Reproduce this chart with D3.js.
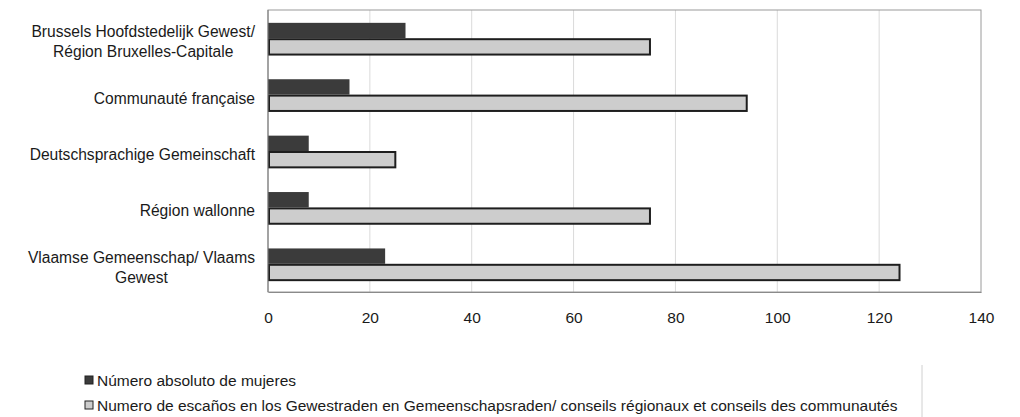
<!DOCTYPE html>
<html><head><meta charset="utf-8">
<script src="https://cdn.jsdelivr.net/npm/d3@7"></script>
<style>
html,body{margin:0;padding:0;background:#fff;}
svg{display:block;font-family:"Liberation Sans",Arial,Helvetica,sans-serif;}
</style></head>
<body>
<svg id="chart" width="1020" height="417"></svg>
<script>
const categories = [
  ["Brussels Hoofdstedelijk Gewest/", "Région Bruxelles-Capitale"],
  ["Communauté française"],
  ["Deutschsprachige Gemeinschaft"],
  ["Région wallonne"],
  ["Vlaamse Gemeenschap/ Vlaams", "Gewest"]
];
const womenValues = [27, 16, 8, 8, 23];
const seatValues = [75, 94, 25, 75, 124];
const seriesNames = [
  "Número absoluto de mujeres",
  "Numero de escaños en los Gewestraden en Gemeenschapsraden/ conseils régionaux et conseils des communautés"
];
const xTicks = [0, 20, 40, 60, 80, 100, 120, 140];

const svg = d3.select("#chart");
const plot = {left: 268, right: 981, top: 10, bottom: 292};
const catKeys = categories.map(c => c.join(" "));
const x = d3.scaleLinear().domain([0, 140]).range([plot.left, plot.right]);
const y0 = d3.scaleBand().domain(catKeys).range([plot.top, plot.bottom]).paddingInner(0.42).paddingOuter(0.21);
const y1 = d3.scaleBand().domain([0, 1]).range([0, y0.bandwidth()]);
const fills = ["#3b3b3b", "#cdcdcd"];

// gridlines
svg.append("g").selectAll("line").data(xTicks.slice(1, -1)).join("line")
  .attr("x1", d => x(d)).attr("x2", d => x(d))
  .attr("y1", plot.top).attr("y2", plot.bottom)
  .attr("stroke", "#dadada").attr("stroke-width", 1);

// frame
svg.append("rect").attr("x", plot.left).attr("y", plot.top)
  .attr("width", plot.right - plot.left).attr("height", plot.bottom - plot.top)
  .attr("fill", "none").attr("stroke", "#9a9a9a").attr("stroke-width", 1);

// bars
const rows = catKeys.map((k, i) => ({k, vals: [womenValues[i], seatValues[i]]}));
const g = svg.append("g");
rows.forEach(r => {
  g.append("rect")
    .attr("x", x(0)).attr("y", y0(r.k) + y1(0) + 1)
    .attr("width", x(r.vals[0]) - x(0)).attr("height", y1.bandwidth() - 1)
    .attr("fill", fills[0]);
  g.append("rect")
    .attr("x", x(0) + 1).attr("y", y0(r.k) + y1(1) + 1)
    .attr("width", x(r.vals[1]) - x(0) - 1).attr("height", y1.bandwidth() - 1)
    .attr("fill", fills[1]).attr("stroke", "#1e1e1e").attr("stroke-width", 2);
});

// left axis line
svg.append("line").attr("x1", plot.left).attr("x2", plot.left)
  .attr("y1", plot.top).attr("y2", plot.bottom).attr("stroke", "#7a7a7a");

// x axis
const xAxis = d3.axisBottom(x).tickValues(xTicks).tickSize(0).tickPadding(20);
const ax = svg.append("g").attr("transform", `translate(0,${plot.bottom})`).call(xAxis);
ax.select(".domain").attr("stroke", "#8a8a8a");
ax.selectAll("text").attr("font-size", 15.5).attr("fill", "#1a1a1a")
  .attr("font-family", "'Liberation Sans',Arial,sans-serif");

// category labels
const labelRight = 255;
categories.forEach((lines, i) => {
  const cy = y0(catKeys[i]) + y0.bandwidth() / 2 + 4;
  const lh = 20;
  const t = svg.append("g");
  const texts = lines.map((ln, j) => t.append("text")
    .attr("y", cy + (j - (lines.length - 1) / 2) * lh + 5)
    .attr("font-size", 15.6).attr("fill", "#1a1a1a").attr("text-anchor", "middle")
    .text(ln));
  const w = d3.max(texts, tx => tx.node().getComputedTextLength());
  texts.forEach(tx => tx.attr("x", labelRight - w / 2));
});

// legend
const legend = svg.append("g");
const legY = [381, 406];
seriesNames.forEach((name, i) => {
  legend.append("rect").attr("x", 85).attr("y", legY[i] - 5).attr("width", 8).attr("height", 8)
    .attr("fill", fills[i]).attr("stroke", "#222").attr("stroke-width", 1);
  legend.append("text").attr("x", 97).attr("y", legY[i] + 5)
    .attr("font-size", 15.5).attr("fill", "#1a1a1a").text(name);
});
legend.append("line").attr("x1", 922).attr("x2", 922).attr("y1", 365).attr("y2", 417)
  .attr("stroke", "#d0d0d0");
</script>
</body></html>
